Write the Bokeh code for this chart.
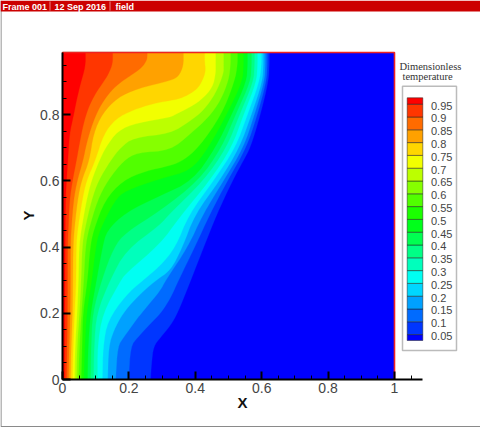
from bokeh.embed import file_html
from bokeh.resources import INLINE
from bokeh.plotting import figure
from bokeh.models import Range1d, FixedTicker
from bokeh.core.properties import value

W, H = 480, 427
X_TOP = 1.0
Y_TOP = 0.988

x_tick_values = [0, 0.2, 0.4, 0.6, 0.8, 1]
x_tick_labels = ["0", "0.2", "0.4", "0.6", "0.8", "1"]
y_tick_values = [0, 0.2, 0.4, 0.6, 0.8]
y_tick_labels = ["0", "0.2", "0.4", "0.6", "0.8"]
x_minor = [0.05, 0.1, 0.15, 0.25, 0.3, 0.35, 0.45, 0.5, 0.55, 0.65, 0.7, 0.75, 0.85, 0.9, 0.95, 1.05]
y_minor = [0.05, 0.1, 0.15, 0.25, 0.3, 0.35, 0.45, 0.5, 0.55, 0.65, 0.7, 0.75, 0.85, 0.9, 0.95]

levels = [0.05, 0.1, 0.15, 0.2, 0.25, 0.3, 0.35, 0.4, 0.45, 0.5,
          0.55, 0.6, 0.65, 0.7, 0.75, 0.8, 0.85, 0.9, 0.95]
level_labels = ["0.05", "0.1", "0.15", "0.2", "0.25", "0.3", "0.35", "0.4", "0.45", "0.5",
                "0.55", "0.6", "0.65", "0.7", "0.75", "0.8", "0.85", "0.9", "0.95"]
band_colors = ["#0000FF", "#0036FF", "#006BFF", "#00A1FF", "#00D6FF", "#00FFF2", "#00FFBC",
               "#00FF86", "#00FF51", "#00FF1B", "#1BFF00", "#51FF00", "#86FF00", "#BCFF00",
               "#F2FF00", "#FFD600", "#FFA100", "#FF6B00", "#FF3600", "#FF0000"]

# contour lines of the field, one pair of lists per level
c05_x = [.265, .268, .274, .295, .325, .346, .386, .425, .464, .512, .545, .566, .596, .620, .623, .623]
c05_y = [0, .048, .1, .127, .163, .199, .299, .399, .498, .601, .662, .701, .8, .9, .95, .988]
c10_x = [.199, .205, .226, .265, .295, .325, .349, .398, .443, .497, .554, .587, .614, .617, .617]
c10_y = [0, .1, .127, .169, .199, .245, .299, .399, .498, .601, .701, .8, .9, .95, .988]
c15_x = [.16, .166, .184, .22, .244, .295, .31, .377, .422, .485, .545, .578, .608, .611, .611]
c15_y = [0, .1, .127, .178, .208, .269, .299, .399, .498, .601, .701, .8, .9, .95, .988]
c20_x = [.136, .139, .154, .181, .223, .28, .325, .361, .398, .473, .533, .569, .602, .605, .605]
c20_y = [0, .1, .148, .199, .248, .299, .329, .399, .498, .601, .701, .8, .9, .95, .988]
c25_x = [.12, .122, .136, .19, .241, .295, .34, .38, .455, .521, .557, .593, .599, .599]
c25_y = [0, .1, .178, .254, .299, .344, .399, .498, .601, .701, .8, .9, .95, .988]
c30_x = [.105, .105, .12, .175, .19, .295, .349, .443, .509, .545, .584, .587, .587]
c30_y = [0, .1, .199, .299, .32, .411, .486, .601, .701, .8, .9, .95, .988]
c35_x = [.093, .095, .102, .142, .19, .295, .319, .425, .494, .533, .575, .578, .578]
c35_y = [0, .1, .199, .299, .39, .468, .498, .601, .701, .8, .9, .95, .988]
c40_x = [.084, .086, .09, .117, .154, .19, .295, .41, .479, .521, .566, .569, .569]
c40_y = [0, .1, .199, .299, .399, .444, .511, .601, .701, .8, .9, .95, .988]
c45_x = [.075, .077, .084, .102, .12, .133, .19, .295, .392, .461, .509, .554, .557, .557]
c45_y = [0, .1, .199, .299, .399, .45, .505, .556, .601, .701, .8, .9, .95, .988]
c50_x = [.064, .067, .072, .088, .1, .111, .157, .19, .295, .386, .44, .494, .542, .545, .545]
c50_y = [0, .1, .199, .299, .399, .45, .541, .571, .607, .631, .701, .8, .9, .95, .988]
c55_x = [.056, .059, .061, .075, .083, .093, .127, .181, .25, .325, .364, .41, .479, .518, .527, .527]
c55_y = [0, .1, .199, .299, .399, .45, .541, .601, .63, .646, .662, .701, .8, .9, .95, .988]
c60_x = [.048, .051, .057, .064, .069, .078, .105, .136, .184, .226, .325, .386, .44, .476, .5, .506, .506]
c60_y = [0, .1, .199, .299, .399, .45, .541, .601, .662, .686, .692, .743, .792, .843, .903, .95, .988]
c65_x = [.042, .044, .051, .056, .059, .066, .087, .108, .145, .175, .214, .325, .386, .425, .461, .485, .485, .485]
c65_y = [0, .1, .199, .299, .399, .45, .541, .601, .662, .701, .731, .743, .782, .813, .864, .924, .95, .988]
c70_x = [.036, .038, .044, .048, .05, .056, .072, .087, .111, .13, .166, .226, .325, .346, .377, .416, .452, .461, .461, .461]
c70_y = [0, .1, .199, .299, .399, .45, .541, .601, .662, .701, .752, .776, .792, .804, .819, .843, .882, .924, .95, .988]
c75_x = [.03, .032, .036, .041, .041, .045, .059, .072, .099, .123, .16, .214, .274, .325, .355, .386, .41, .425, .431, .428, .428]
c75_y = [0, .1, .199, .299, .399, .45, .541, .601, .662, .74, .788, .815, .834, .843, .849, .864, .882, .912, .934, .96, .988]
c80_x = [.024, .026, .03, .031, .032, .035, .045, .057, .081, .093, .12, .166, .226, .325, .349, .364, .364]
c80_y = [0, .1, .199, .299, .399, .45, .541, .601, .662, .743, .804, .852, .879, .903, .915, .947, .988]
c85_x = [.018, .02, .023, .024, .024, .026, .033, .044, .062, .072, .09, .111, .139, .169, .205, .24, .253, .255, .255]
c85_y = [0, .1, .199, .299, .399, .45, .541, .601, .662, .713, .773, .822, .864, .894, .918, .943, .964, .975, .988]
c90_x = [.012, .015, .015, .017, .021, .03, .042, .051, .063, .078, .099, .12, .139, .151, .151]
c90_y = [0, .199, .399, .45, .541, .601, .662, .713, .773, .822, .864, .894, .924, .955, .988]
c95_x = [.006, .008, .008, .009, .012, .016, .021, .032, .042, .054, .069, .069]
c95_y = [0, .399, .45, .541, .601, .662, .743, .792, .843, .894, .946, .988]

contours = [(c05_x, c05_y), (c10_x, c10_y), (c15_x, c15_y), (c20_x, c20_y), (c25_x, c25_y),
            (c30_x, c30_y), (c35_x, c35_y), (c40_x, c40_y), (c45_x, c45_y), (c50_x, c50_y),
            (c55_x, c55_y), (c60_x, c60_y), (c65_x, c65_y), (c70_x, c70_y), (c75_x, c75_y),
            (c80_x, c80_y), (c85_x, c85_y), (c90_x, c90_y), (c95_x, c95_y)]


def px(v):
    return (v - 62) / 332


def py(v):
    return (379 - v) / 331


def rounded(xs, ys, passes=2):
    """Draw a contour with softened corners; its end points stay where they were read."""
    for _ in range(passes):
        nx, ny = [xs[0]], [ys[0]]
        for i in range(len(xs) - 1):
            nx += [0.75 * xs[i] + 0.25 * xs[i + 1], 0.25 * xs[i] + 0.75 * xs[i + 1]]
            ny += [0.75 * ys[i] + 0.25 * ys[i + 1], 0.25 * ys[i] + 0.75 * ys[i + 1]]
        xs, ys = nx + [xs[-1]], ny + [ys[-1]]
    return xs, ys


p = figure(width=W, height=H, output_backend="svg", toolbar_location=None,
           x_range=Range1d(px(0), px(W)), y_range=Range1d(py(H), py(0)),
           min_border=0, outline_line_color=None, background_fill_color="white",
           x_axis_type="linear", y_axis_type="linear")
p.grid.visible = False

# field: each level painted over the previous one
p.quad(left=[0], right=[X_TOP], bottom=[0], top=[Y_TOP], fill_color=band_colors[0], line_color=None)
for (cx, cy), col in zip(contours, band_colors[1:]):
    sx, sy = rounded(cx, cy)
    p.patch([0] + sx + [0], [0] + sy + [Y_TOP], fill_color=col, line_color=col, line_width=0.3)

# red frame of the field
p.line([0, X_TOP, X_TOP], [Y_TOP, Y_TOP, 0], line_color="#EE2222", line_width=1.6)

# axes
for ax, ticks, labels, minor, bounds in ((p.xaxis[0], x_tick_values, x_tick_labels, x_minor, (0, 1.083)),
                                         (p.yaxis[0], y_tick_values, y_tick_labels, y_minor, (0, Y_TOP))):
    ax.fixed_location = 0
    ax.bounds = bounds
    ax.ticker = FixedTicker(ticks=ticks, minor_ticks=minor)
    ax.major_label_overrides = dict(zip(ticks, labels))
    ax.major_label_text_font = "Liberation Sans"
    ax.major_label_text_font_size = "14px"
    ax.major_label_text_color = "#444444"
    ax.major_tick_in = 8
    ax.major_tick_out = 0
    ax.minor_tick_in = 4
    ax.minor_tick_out = 0
    ax.axis_line_color = "black"
    ax.axis_line_width = 2
    ax.major_tick_line_color = "black"
    ax.major_tick_line_width = 2
    ax.minor_tick_line_color = "black"
    ax.minor_tick_line_width = 1
    ax.major_label_standoff = 3

p.text(x=[px(242)], y=[py(402)], text=["X"], text_font=value("Liberation Sans"), text_font_style="bold",
       text_font_size="15px", text_color="#111111", text_align="center", text_baseline="middle")
p.text(x=[px(28)], y=[py(215)], text=["Y"], angle=1.5708, text_font=value("Liberation Sans"),
       text_font_style="bold", text_font_size="15px", text_color="#111111", text_align="center",
       text_baseline="middle")

# window border and title bar
p.line([px(0.5), px(0.5), px(W)], [py(0), py(426), py(426)], line_color="#8A8A8A", line_width=1.2)
p.quad(left=[px(0)], right=[px(W)], bottom=[py(11)], top=[py(0)], fill_color="#CC0000", line_color=None)
p.segment(x0=[px(49.5), px(109.5)], x1=[px(49.5), px(109.5)], y0=[py(1), py(1)], y1=[py(10), py(10)],
          line_color="#E88888", line_width=1)
p.text(x=[px(2), px(54), px(115)], y=[py(6.5)] * 3, text=["Frame 001", "12 Sep 2016", "field"],
       text_font=value("Liberation Sans"), text_font_style="bold", text_font_size="9px", text_color="white",
       text_align="left", text_baseline="middle")

# contour legend
p.quad(left=[px(402)], right=[px(456)], bottom=[py(350)], top=[py(85.7)], fill_color="white",
       line_color="#BBBBBB", line_width=1.5)


def legend_py(level):
    return 103.7 + (0.95 - level) / 0.05 * 12.8


edges_py = [340] + [legend_py(v) for v in levels] + [97.3]
p.quad(left=[px(406.7)] * 20, right=[px(422.3)] * 20,
       bottom=[py(v) for v in edges_py[:-1]], top=[py(v) for v in edges_py[1:]],
       fill_color=band_colors, line_color="#222222", line_alpha=0.5, line_width=1)
p.text(x=[px(430.5)] * len(levels), y=[py(legend_py(v) + 1.3) for v in levels], text=level_labels,
       text_font=value("Liberation Sans"), text_font_size="11px", text_color="#444444",
       text_align="left", text_baseline="middle")
p.text(x=[px(399), px(402)], y=[py(65.5), py(76)], text=["Dimensionless", "temperature"],
       text_font=value("Liberation Serif"), text_font_size="10.5px", text_color="#333333",
       text_align="left", text_baseline="middle")

open("out.html", "w").write(file_html(p, INLINE))
